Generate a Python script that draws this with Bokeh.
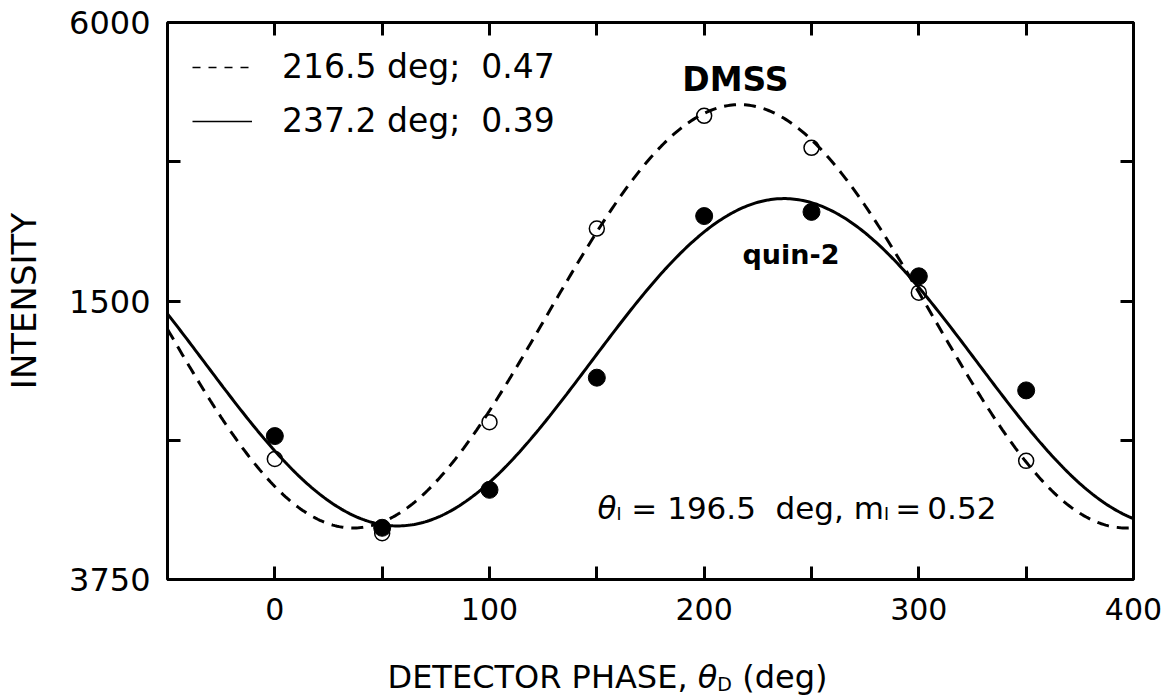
import numpy as np
from bokeh.plotting import figure
from bokeh.layouts import column
from bokeh.models import FixedTicker, LinearAxis, Label, Legend, LegendItem, Range1d
from bokeh.embed import file_html
from bokeh.resources import INLINE

# ---------------- data ----------------
phase_deg = [0, 50, 100, 150, 200, 250, 300, 350]
dmss_intensity = [1298, 498, 1695, 3780, 4995, 4650, 3090, 1278]     # open circles
quin2_intensity = [1545, 557, 966, 2174, 3915, 3960, 3266, 2037]     # filled circles

dmss_fit = dict(phase=216.5, mean=2835, amp=2280)
quin2_fit = dict(phase=237.2, mean=2340, amp=1763)

x_ticks = [0, 50, 100, 150, 200, 250, 300, 350, 400]
x_tick_labels = ["0", "", "100", "", "200", "", "300", "", "400"]
y_ticks = [0, 1500, 3000, 4500, 6000]
y_tick_labels = ["3750", "", "1500", "", "6000"]

legend_labels = ["216.5 deg;  0.47", "237.2 deg;  0.39"]
name_dmss = "DMSS"
name_quin2 = "quin-2"
y_title = "INTENSITY"

FONT = "DejaVu Sans"
NB = "\u00a0"
THIN = "\u2009"

# ---------------- layout helpers ----------------
W, H_MAIN, H_STRIP = 1165, 649, 47
X0, X1, Y0, Y1 = -50, 400, 0, 6000
FL, FR, FT, FB = 167, 1133, 22, 579   # frame edges in picture pixels
BASE_FIX = 11                          # label baseline correction (px)


def dx(px):
    return X0 + (px - FL) * (X1 - X0) / (FR - FL)


def dy(py):
    return Y0 + (FB - py) * (Y1 - Y0) / (FB - FT)


EM = {**{d: 0.636 for d in "0123456789"}, ".": 0.318, " ": 0.318, NB: 0.318,
      THIN: 0.2, ",": 0.318, ";": 0.337, "=": 0.838, "d": 0.635, "e": 0.615,
      "g": 0.635, "m": 0.974, "I": 0.295, "θ": 0.612, "(": 0.390, ")": 0.390,
      "D": 0.770, "E": 0.632, "T": 0.611, "C": 0.698, "O": 0.787, "R": 0.695,
      "P": 0.603, "H": 0.752, "A": 0.684, "S": 0.635}


def add_pieces(fig, pieces, xfun, yfun, px, py):
    off = 0.0
    for text, size, style, drop in pieces:
        fig.add_layout(Label(x=xfun(px), y=yfun(py + drop - BASE_FIX), x_offset=off,
                             text=text, text_font=FONT, text_font_size=f"{size}px",
                             text_font_style=style, text_color="black",
                             text_align="left", text_baseline="alphabetic"))
        off += sum(EM.get(c, 0.6) for c in text) * size


# ---------------- main figure ----------------
p = figure(width=W, height=H_MAIN, x_range=Range1d(X0, X1), y_range=Range1d(Y0, Y1),
           output_backend="svg", toolbar_location=None,
           min_border_left=FL, min_border_right=W - FR, min_border_top=FT,
           min_border_bottom=H_MAIN - FB)
p.xgrid.grid_line_color = None
p.ygrid.grid_line_color = None
p.outline_line_color = "black"
p.outline_line_width = 3
p.background_fill_color = "white"
p.border_fill_color = "white"

p.xaxis.ticker = FixedTicker(ticks=x_ticks)
p.xaxis.major_label_overrides = {t: l for t, l in zip(x_ticks, x_tick_labels)}
p.yaxis.ticker = FixedTicker(ticks=y_ticks)
p.yaxis.major_label_overrides = {t: l for t, l in zip(y_ticks, y_tick_labels)}
p.xaxis.major_label_text_font_size = "30px"
p.yaxis.major_label_text_font_size = "32px"
p.xaxis.major_label_standoff = 18
p.yaxis.major_label_standoff = 17

p.yaxis.axis_label = y_title
p.yaxis.axis_label_text_font = FONT
p.yaxis.axis_label_text_font_size = "34px"
p.yaxis.axis_label_text_font_style = "normal"
p.yaxis.axis_label_text_color = "black"
p.yaxis.axis_label_standoff = 22

for ax in (p.xaxis[0], p.yaxis[0]):
    ax.axis_line_color = None
    ax.major_tick_in = 13
    ax.major_tick_out = 0
    ax.major_tick_line_width = 3
    ax.minor_tick_line_color = None
    ax.major_label_text_font = FONT
    ax.major_label_text_color = "black"

ax_r = LinearAxis(ticker=FixedTicker(ticks=y_ticks),
                  major_label_overrides={t: "" for t in y_ticks})
ax_t = LinearAxis(ticker=FixedTicker(ticks=x_ticks),
                  major_label_overrides={t: "" for t in x_ticks})
for ax in (ax_r, ax_t):
    ax.axis_line_color = None
    ax.major_tick_in = 13
    ax.major_tick_out = 0
    ax.major_tick_line_width = 3
    ax.minor_tick_line_color = None
    ax.major_label_text_font_size = "0px"
    ax.major_label_standoff = 0
p.add_layout(ax_r, "right")
p.add_layout(ax_t, "above")

# fitted curves
fit_x = np.arange(X0, X1 + 1, 1.0)
dmss_curve = dmss_fit["mean"] + dmss_fit["amp"] * np.cos(np.radians(fit_x - dmss_fit["phase"]))
quin2_curve = quin2_fit["mean"] + quin2_fit["amp"] * np.cos(np.radians(fit_x - quin2_fit["phase"]))
p.line(fit_x, dmss_curve, line_color="black", line_width=3, line_dash="12 8")
p.line(fit_x, quin2_curve, line_color="black", line_width=3)

# data points
p.scatter(phase_deg, dmss_intensity, marker="circle", size=15, fill_color=None,
          line_color="black", line_width=1.5)
p.scatter(phase_deg, quin2_intensity, marker="circle", size=17, fill_color="black",
          line_color="black")

# legend (thin samples; the sample renderers hold no visible points)
r_leg_dash = p.line([np.nan, np.nan], [np.nan, np.nan], line_color="black",
                    line_width=1.5, line_dash="8 8")
r_leg_solid = p.line([np.nan, np.nan], [np.nan, np.nan], line_color="black",
                     line_width=1.5)
legend = Legend(items=[LegendItem(label=legend_labels[0], renderers=[r_leg_dash]),
                       LegendItem(label=legend_labels[1], renderers=[r_leg_solid])],
                location="top_left", border_line_color="black", border_line_alpha=0,
                background_fill_alpha=0, glyph_width=60, glyph_height=20,
                label_standoff=30, label_text_font=FONT, label_text_font_size="33px",
                label_text_color="black", padding=25, spacing=15, margin=0)
p.add_layout(legend)

# curve names
p.add_layout(Label(x=dx(735), y=dy(90 - BASE_FIX), text=name_dmss, text_font=FONT,
                   text_font_size="33px", text_font_style="bold", text_align="center",
                   text_baseline="alphabetic", text_color="black"))
p.add_layout(Label(x=dx(742), y=dy(265 - BASE_FIX), text=name_quin2, text_font=FONT,
                   text_font_size="27px", text_font_style="bold", text_align="left",
                   text_baseline="alphabetic", text_color="black"))

# annotation: θ_I = 196.5 deg, m_I = 0.52
add_pieces(p, [("θ", 31, "italic", 0), ("I", 17, "normal", 6),
               (NB + "=" + NB + "196.5" + NB * 2 + "deg," + NB + "m", 31, "normal", 0),
               ("I", 17, "normal", 6),
               (THIN + "=" + THIN + "0.52", 31, "normal", 0)], dx, dy, 597, 518)

# ---------------- strip holding the x-axis title ----------------
t = figure(width=W, height=H_STRIP, x_range=Range1d(X0, X1), y_range=Range1d(0, H_STRIP),
           output_backend="svg", toolbar_location=None, x_axis_type=None,
           y_axis_type=None, min_border_left=FL, min_border_right=W - FR,
           min_border_top=0, min_border_bottom=0)
t.outline_line_color = None
t.xgrid.grid_line_color = None
t.ygrid.grid_line_color = None
t.background_fill_color = "white"
t.border_fill_color = "white"


def sy(py):
    return (H_MAIN + H_STRIP) - py


add_pieces(t, [("DETECTOR PHASE," + NB, 32, "normal", 0), ("θ", 32, "italic", 0),
               ("D", 19, "normal", 7), (NB + "(deg)", 32, "normal", 0)], dx, sy, 387, 687)

layout = column(p, t, spacing=0)
open("out.html", "w").write(file_html(layout, INLINE))
